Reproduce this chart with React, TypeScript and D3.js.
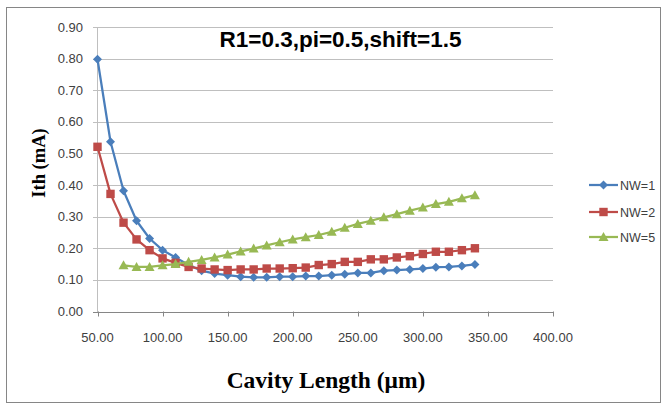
import React from "react";
import * as d3 from "d3";

const lengths1 = [50,60,70,80,90,100,110,120,130,140,150,160,170,180,190,200,210,220,230,240,250,260,270,280,290,300,310,320,330,340];
const nw1 = [0.798,0.537,0.382,0.287,0.231,0.194,0.171,0.147,0.129,0.12,0.115,0.11,0.108,0.108,0.11,0.11,0.112,0.112,0.115,0.118,0.122,0.122,0.129,0.131,0.133,0.136,0.14,0.141,0.144,0.149];
const nw2 = [0.521,0.372,0.281,0.228,0.194,0.168,0.154,0.141,0.136,0.133,0.131,0.133,0.133,0.136,0.136,0.137,0.139,0.147,0.15,0.157,0.157,0.165,0.165,0.171,0.175,0.182,0.189,0.189,0.194,0.2];
const lengths5 = [70,80,90,100,110,120,130,140,150,160,170,180,190,200,210,220,230,240,250,260,270,280,290,300,310,320,330,340];
const nw5 = [0.146,0.141,0.141,0.146,0.15,0.157,0.163,0.171,0.18,0.19,0.199,0.209,0.219,0.228,0.235,0.242,0.252,0.265,0.277,0.287,0.298,0.308,0.319,0.329,0.34,0.347,0.358,0.368];
const xTicks = [50,100,150,200,250,300,350,400];
const yTicks = [0,0.1,0.2,0.3,0.4,0.5,0.6,0.7,0.8,0.9];
const seriesNames = ["NW=1","NW=2","NW=5"];
const colors = ["#4A7EBB","#BE4B48","#98B954"];

export default function App() {
  const W = 668, H = 409;
  const x = d3.scaleLinear().domain([50, 400]).range([97.5, 553]);
  const y = d3.scaleLinear().domain([0, 0.9]).range([311.5, 27]);
  const series = [
    { xs: lengths1, ys: nw1 },
    { xs: lengths1, ys: nw2 },
    { xs: lengths5, ys: nw5 },
  ];
  const line = d3.line<[number, number]>().x(d => x(d[0])).y(d => y(d[1]));
  const sans = "'Liberation Sans', Arial, sans-serif";
  const serif = "'Liberation Serif', 'DejaVu Serif', serif";

  const marker = (i: number, cx: number, cy: number, key: string) => {
    const c = colors[i];
    if (i === 0) {
      const s = 4.5;
      return <path key={key} d={`M${cx},${cy - s}L${cx + s},${cy}L${cx},${cy + s}L${cx - s},${cy}Z`} fill={c} />;
    }
    if (i === 1) {
      const s = 4.2;
      return <rect key={key} x={cx - s} y={cy - s} width={2 * s} height={2 * s} fill={c} />;
    }
    const s = 5;
    return <path key={key} d={`M${cx},${cy - s}L${cx + s},${cy + s * 0.8}L${cx - s},${cy + s * 0.8}Z`} fill={c} />;
  };

  const legendY = [185, 212, 237];

  return (
    <svg width={W} height={H} style={{ position: "absolute", left: 0, top: 0, background: "#fff" }}>
      <rect x={6.5} y={7.5} width={654} height={395} fill="#fff" stroke="#868686" strokeWidth={1} />
      {yTicks.map(t => (
        <g key={"g" + t}>
          <line x1={93} x2={553} y1={Math.round(y(t)) + 0.5} y2={Math.round(y(t)) + 0.5} stroke={t === 0 ? "#868686" : "#BFBFBF"} strokeWidth={1} />
          <text x={83} y={y(t) + 4.5} textAnchor="end" fontFamily={sans} fontSize={13} fill="#404040">{t.toFixed(2)}</text>
        </g>
      ))}
      <line x1={97.5} x2={97.5} y1={y(0.9)} y2={y(0) + 0.5} stroke="#BFBFBF" strokeWidth={1} />
      {xTicks.map(t => (
        <g key={"x" + t}>
          <line x1={Math.round(x(t)) + 0.5} x2={Math.round(x(t)) + 0.5} y1={y(0)} y2={y(0) + 5} stroke="#868686" />
          <text x={x(t)} y={342} textAnchor="middle" fontFamily={sans} fontSize={13} fill="#404040">{t.toFixed(2)}</text>
        </g>
      ))}
      {series.map((s, i) => {
        const pts: [number, number][] = s.xs.map((v, j) => [v, s.ys[j]]);
        return (
          <g key={"s" + i}>
            <path d={line(pts) || ""} fill="none" stroke={colors[i]} strokeWidth={2.25} strokeLinejoin="round" />
            {pts.map((p, j) => marker(i, x(p[0]), y(p[1]), `m${i}-${j}`))}
          </g>
        );
      })}
      <text x={340.5} y={47} textAnchor="middle" fontFamily={sans} fontWeight="bold" fontSize={22.5} fill="#000">R1=0.3,pi=0.5,shift=1.5</text>
      <text transform="translate(45,163) rotate(-90)" textAnchor="middle" fontFamily={serif} fontWeight="bold" fontSize={18.5} fill="#000">Ith (mA)</text>
      <text x={326} y={388} textAnchor="middle" fontFamily={serif} fontWeight="bold" fontSize={23.5} fill="#000">Cavity Length (μm)</text>
      {seriesNames.map((n, i) => (
        <g key={"l" + i}>
          <line x1={589} x2={618} y1={legendY[i]} y2={legendY[i]} stroke={colors[i]} strokeWidth={2.25} />
          {marker(i, 603.5, legendY[i], "lm" + i)}
          <text x={620} y={legendY[i] + 4.5} fontFamily={sans} fontSize={12.5} fill="#404040">{n}</text>
        </g>
      ))}
    </svg>
  );
}
